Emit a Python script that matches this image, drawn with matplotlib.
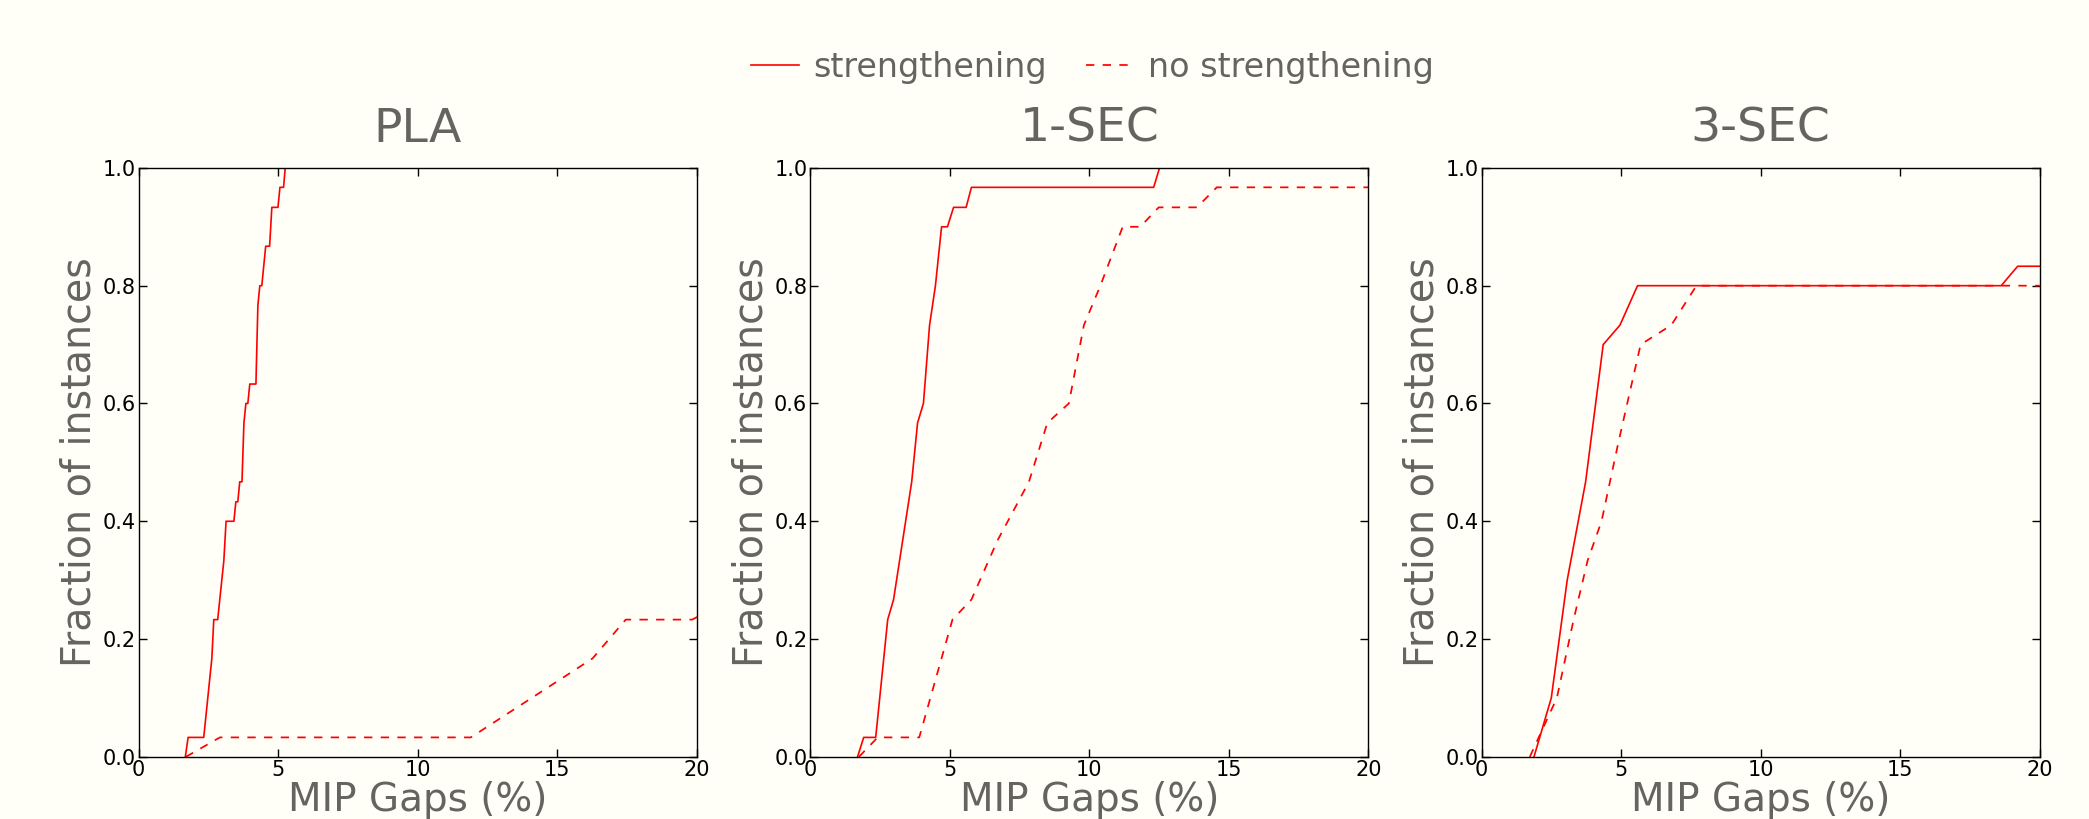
import matplotlib
matplotlib.use("Agg")
import matplotlib.pyplot as plt

# ---- data ----
panel_titles = ["PLA", "1-SEC", "3-SEC"]
series_labels = ["strengthening", "no strengthening"]

pla_str_x = [1.67, 1.77, 2.33, 2.62, 2.69, 2.83, 3.05, 3.13, 3.41, 3.48, 3.55, 3.62, 3.70,
             3.77, 3.84, 3.91, 3.98, 4.20, 4.27, 4.34, 4.41, 4.55, 4.69, 4.77, 4.99, 5.06,
             5.19, 5.25, 20.0]
pla_str_y = [0.0, 0.033, 0.033, 0.167, 0.233, 0.233, 0.333, 0.4, 0.4, 0.433, 0.433, 0.467,
             0.467, 0.567, 0.6, 0.6, 0.633, 0.633, 0.767, 0.8, 0.8, 0.867, 0.867, 0.933,
             0.933, 0.967, 0.967, 1.0, 1.0]
pla_nostr_x = [1.69, 2.91, 11.9, 16.26, 17.45, 19.83, 21.2]
pla_nostr_y = [0.0, 0.033, 0.033, 0.167, 0.233, 0.233, 0.267]

sec1_str_x = [1.70, 1.92, 2.35, 2.78, 2.99, 3.64, 3.85, 4.06, 4.28, 4.49, 4.71, 4.92, 5.14,
              5.59, 5.78, 12.31, 12.52, 20.0]
sec1_str_y = [0.0, 0.033, 0.033, 0.233, 0.267, 0.467, 0.567, 0.6, 0.733, 0.8, 0.9, 0.9,
              0.933, 0.933, 0.967, 0.967, 1.0, 1.0]
sec1_nostr_x = [1.75, 2.42, 3.91, 5.10, 5.78, 6.71, 7.84, 8.5, 9.27, 9.81, 10.4, 11.2, 11.83,
                12.49, 13.86, 14.57, 20.0]
sec1_nostr_y = [0.0, 0.033, 0.033, 0.233, 0.267, 0.367, 0.467, 0.567, 0.6, 0.733, 0.8, 0.9,
                0.9, 0.933, 0.933, 0.967, 0.967]

sec3_str_x = [1.88, 2.50, 3.07, 3.73, 4.36, 4.96, 5.59, 18.62, 19.21, 20.0]
sec3_str_y = [0.0, 0.1, 0.3, 0.467, 0.7, 0.733, 0.8, 0.8, 0.833, 0.833]
sec3_nostr_x = [1.73, 2.7, 3.3, 3.8, 4.3, 4.9, 5.7, 6.8, 7.7, 20.0]
sec3_nostr_y = [0.0, 0.1, 0.233, 0.333, 0.4, 0.533, 0.7, 0.733, 0.8, 0.8]

x_ticks = [0, 5, 10, 15, 20]
x_ticklabels = ["0", "5", "10", "15", "20"]
y_ticks = [0.0, 0.2, 0.4, 0.6, 0.8, 1.0]
y_ticklabels = ["0.0", "0.2", "0.4", "0.6", "0.8", "1.0"]

panels = [
    (pla_str_x, pla_str_y, pla_nostr_x, pla_nostr_y),
    (sec1_str_x, sec1_str_y, sec1_nostr_x, sec1_nostr_y),
    (sec3_str_x, sec3_str_y, sec3_nostr_x, sec3_nostr_y),
]

# ---- style ----
BG = "#fffef7"
TXT = "#65645e"
plt.rcParams["font.family"] = ["DejaVu Sans"]
plt.rcParams["lines.scale_dashes"] = False

fig = plt.figure(figsize=(20.89, 8.19), dpi=100, facecolor=BG)
lefts = [0.0664, 0.3878, 0.7092]
width = 0.2672
bottom = 0.0759
height = 0.7191

handles = []
for i, (sx, sy, nx, ny) in enumerate(panels):
    ax = fig.add_axes([lefts[i], bottom, width, height])
    ax.set_facecolor(BG)
    h1, = ax.plot(sx, sy, color="red", lw=1.2, ls="-", label=series_labels[0])
    h2, = ax.plot(nx, ny, color="red", lw=1.25, dashes=(6, 6), label=series_labels[1])
    if i == 0:
        handles = [h1, h2]
    ax.set_xlim(0, 20)
    ax.set_ylim(0, 1)
    ax.set_xticks(x_ticks)
    ax.set_xticklabels(x_ticklabels)
    ax.set_yticks(y_ticks)
    ax.set_yticklabels(y_ticklabels)
    ax.tick_params(direction="in", top=True, right=True, length=5.5, width=1,
                   labelsize=15, pad=2, colors="black")
    for sp in ax.spines.values():
        sp.set_linewidth(1.0)
        sp.set_color("black")
    ax.set_title(panel_titles[i], fontsize=34, color=TXT, pad=19)
    ax.set_xlabel("MIP Gaps (%)", fontsize=28, color=TXT, labelpad=1)
    ax.set_ylabel("Fraction of instances", fontsize=28.5, color=TXT, labelpad=2)

fig.legend(handles=handles, labels=series_labels, loc="center",
           bbox_to_anchor=(0.523, 0.918), ncol=2, frameon=False, fontsize=24,
           handlelength=1.45, handletextpad=0.4, columnspacing=1.2, labelcolor=TXT)

fig.savefig("out.png", dpi=100, facecolor=BG)
